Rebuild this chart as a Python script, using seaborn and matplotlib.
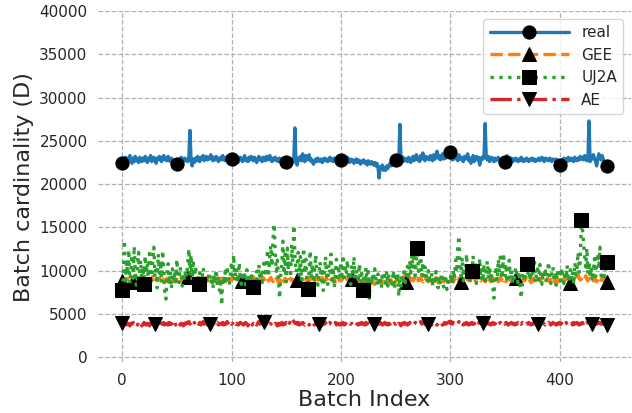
import numpy as np
import seaborn as sns
import matplotlib
matplotlib.use("Agg")
import matplotlib.pyplot as plt

# values, in hundreds (x100 below)
real = [
    224, 229, 226, 231, 225, 230, 227, 233, 228, 224, 230, 226, 232, 227, 229, 225, 231, 228, 226, 230,
    227, 232, 229, 225, 230, 228, 233, 226, 229, 231, 227, 224, 230, 228, 232, 229, 226, 231, 233, 228,
    230, 227, 232, 229, 226, 230, 228, 225, 227, 224, 223, 226, 229, 225, 231, 228, 226, 230, 227, 229,
    226, 231, 262, 228, 221, 229, 225, 230, 227, 232, 228, 226, 231, 229, 233, 227, 230, 232, 228, 231,
    229, 234, 230, 227, 231, 228, 232, 230, 226, 229, 231, 228, 233, 229, 227, 230, 232, 228, 231, 229,
    229, 232, 228, 226, 230, 227, 225, 229, 231, 228, 226, 230, 233, 227, 229, 226, 231, 228, 232, 229,
    227, 231, 228, 225, 229, 232, 228, 230, 226, 231, 229, 227, 232, 230, 228, 233, 229, 226, 230, 228,
    231, 227, 229, 226, 230, 228, 225, 227, 229, 226, 225, 228, 226, 230, 227, 229, 226, 231, 265, 224,
    222, 230, 228, 232, 227, 235, 229, 226, 233, 228, 231, 234, 227, 229, 225, 223, 227, 229, 226, 230,
    228, 226, 229, 225, 228, 230, 227, 229, 226, 228, 231, 227, 229, 226, 230, 228, 227, 229, 231, 228,
    228, 230, 227, 229, 226, 228, 231, 227, 225, 229, 226, 228, 224, 227, 229, 225, 228, 226, 223, 227,
    225, 228, 224, 226, 222, 227, 225, 223, 226, 224, 222, 225, 221, 224, 219, 207, 220, 217, 222, 216,
    219, 216, 221, 218, 222, 224, 221, 225, 223, 226, 228, 224, 227, 225, 269, 228, 232, 226, 230, 227,
    229, 226, 231, 228, 225, 229, 232, 227, 230, 234, 228, 231, 226, 233, 229, 236, 230, 227, 232, 229,
    231, 228, 233, 230, 227, 234, 229, 232, 238, 230, 233, 228, 231, 235, 229, 232, 230, 234, 231, 233,
    237, 231, 228, 233, 229, 232, 230, 227, 234, 229, 231, 228, 226, 232, 229, 231, 235, 227, 230, 224,
    229, 233, 226, 230, 232, 228, 231, 222, 227, 231, 229, 234, 270, 230, 228, 232, 226, 229, 231, 228,
    226, 230, 227, 229, 231, 228, 225, 229, 227, 228, 225, 229, 233, 227, 231, 228, 230, 226, 229, 227,
    230, 228, 226, 229, 227, 231, 228, 226, 229, 227, 230, 228, 226, 229, 228, 230, 227, 229, 226, 228,
    228, 230, 227, 229, 231, 228, 226, 230, 228, 229, 227, 230, 228, 226, 229, 228, 227, 229, 226, 224,
    222, 225, 228, 226, 230, 227, 229, 226, 231, 228, 227, 230, 228, 226, 231, 229, 227, 230, 228, 232,
    229, 231, 228, 233, 230, 227, 229, 273, 226, 232, 229, 234, 230, 226, 221, 229, 235, 231, 228, 233,
    229, 225, 223, 221,
]

gee = [
    88, 90, 89, 91, 88, 90, 92, 89, 87, 90, 87, 89, 91, 88, 90, 89, 92, 90, 88, 91,
    89, 87, 90, 92, 89, 91, 88, 90, 93, 89, 87, 90, 88, 91, 89, 92, 90, 88, 90, 87,
    89, 91, 88, 90, 92, 89, 87, 90, 91, 88, 90, 89, 92, 90, 88, 91, 89, 93, 90, 88,
    93, 90, 92, 89, 91, 93, 90, 88, 91, 89, 92, 90, 88, 91, 93, 89, 90, 92, 88, 90,
    91, 89, 87, 90, 92, 88, 91, 89, 90, 93, 89, 88, 91, 90, 87, 89, 92, 90, 88, 91,
    89, 92, 90, 88, 91, 89, 93, 90, 92, 89, 88, 90, 87, 89, 91, 88, 90, 92, 89, 91,
    93, 90, 88, 91, 89, 92, 95, 91, 89, 92, 90, 87, 89, 91, 88, 90, 92, 89, 87, 90,
    88, 91, 89, 86, 90, 88, 92, 89, 87, 91, 88, 90, 93, 89, 91, 88, 90, 87, 89, 91,
    89, 92, 90, 88, 91, 89, 93, 90, 88, 91, 89, 92, 90, 87, 89, 91, 88, 90, 92, 89,
    91, 88, 90, 92, 89, 87, 90, 91, 88, 90, 92, 89, 91, 88, 90, 87, 89, 92, 90, 88,
    91, 89, 92, 90, 88, 91, 89, 93, 90, 88, 90, 92, 89, 91, 88, 90, 87, 89, 91, 88,
    87, 89, 85, 88, 86, 84, 87, 89, 85, 88, 86, 84, 87, 85, 88, 86, 89, 87, 85, 88,
    86, 89, 87, 90, 88, 86, 89, 87, 90, 88, 87, 89, 91, 88, 90, 92, 89, 91, 94, 90,
    87, 90, 88, 92, 89, 91, 88, 90, 93, 89, 91, 88, 90, 92, 89, 87, 90, 88, 91, 89,
    87, 90, 88, 91, 89, 87, 90, 92, 88, 86, 89, 91, 88, 90, 87, 89, 91, 88, 86, 89,
    88, 91, 89, 87, 90, 92, 89, 91, 88, 90, 87, 89, 91, 88, 90, 93, 89, 91, 88, 90,
    92, 89, 91, 88, 90, 93, 89, 91, 88, 90, 92, 89, 87, 90, 88, 91, 89, 87, 90, 92,
    89, 91, 88, 90, 87, 89, 92, 90, 88, 91, 89, 87, 90, 92, 89, 91, 88, 90, 87, 89,
    91, 89, 92, 88, 90, 87, 89, 91, 88, 90, 92, 89, 91, 88, 86, 89, 91, 88, 90, 87,
    89, 91, 88, 90, 92, 89, 87, 90, 88, 91, 89, 87, 90, 88, 91, 89, 86, 88, 90, 87,
    89, 91, 88, 90, 87, 89, 92, 88, 90, 87, 86, 89, 91, 88, 93, 90, 92, 95, 91, 89,
    90, 92, 89, 91, 94, 90, 88, 91, 89, 92, 90, 88, 91, 89, 87, 90, 88, 86, 89, 91,
    88, 90, 89, 87,
]

uj2a = [
    77, 92, 135, 88, 110, 96, 124, 85, 102, 118, 91, 128, 99, 83, 107, 121, 94, 112, 87, 104,
    85, 117, 96, 109, 82, 124, 99, 88, 113, 127, 92, 105, 80, 119, 97, 111, 86, 123, 101, 75,
    67, 93, 108, 84, 99, 79, 102, 88, 96, 83, 113, 91, 86, 104, 94, 82, 97, 89, 101, 93,
    109, 125, 96, 118, 88, 112, 83, 105, 94, 86, 84, 99, 92, 88, 103, 96, 81, 90, 86, 93,
    98, 85, 92, 79, 96, 88, 101, 83, 94, 77, 86, 60, 92, 84, 99, 88, 105, 91, 83, 96,
    110, 94, 118, 88, 103, 97, 86, 109, 92, 84, 98, 89, 95, 83, 101, 87, 92, 80, 97, 85,
    81, 93, 88, 99, 84, 107, 91, 96, 86, 102, 113, 93, 108, 124, 97, 118, 129, 105, 137, 154,
    121, 99, 112, 88, 68, 95, 107, 134, 96, 119, 87, 126, 101, 113, 92, 130, 109, 152, 118, 98,
    104, 121, 93, 116, 88, 109, 126, 97, 113, 85, 79, 102, 123, 91, 108, 86, 99, 118, 94, 83,
    95, 110, 88, 103, 77, 98, 116, 92, 84, 107, 99, 119, 89, 104, 80, 96, 113, 87, 101, 92,
    110, 94, 118, 87, 103, 96, 112, 89, 99, 84, 106, 93, 116, 88, 101, 95, 90, 108, 86, 97,
    78, 94, 89, 103, 86, 99, 68, 92, 84, 97, 88, 102, 91, 83, 96, 87, 93, 80, 98, 89,
    94, 85, 99, 82, 96, 88, 91, 84, 100, 79, 93, 87, 97, 70, 90, 82, 95, 88, 103, 86,
    92, 105, 89, 111, 97, 118, 102, 125, 94, 113, 126, 99, 107, 121, 93, 110, 89, 104, 96, 86,
    100, 91, 85, 97, 82, 94, 88, 99, 86, 80, 93, 84, 97, 89, 81, 95, 87, 78, 92, 85,
    90, 97, 84, 101, 93, 112, 98, 127, 140, 106, 93, 115, 88, 104, 97, 119, 92, 108, 86, 99,
    100, 117, 93, 109, 85, 103, 96, 114, 89, 101, 92, 107, 84, 98, 111, 90, 104, 87, 96, 82,
    68, 93, 105, 88, 113, 97, 120, 91, 102, 116, 94, 108, 86, 99, 112, 90, 103, 85, 97, 91,
    104, 95, 86, 99, 82, 68, 93, 108, 87, 101, 108, 95, 111, 88, 104, 92, 99, 114, 86, 97,
    102, 89, 107, 94, 84, 99, 91, 103, 87, 96, 110, 92, 85, 98, 104, 89, 95, 83, 100, 92,
    97, 88, 103, 93, 85, 99, 91, 106, 87, 95, 101, 89, 97, 84, 109, 95, 103, 121, 98, 112,
    158, 148, 132, 117, 104, 126, 96, 110, 92, 105, 88, 99, 114, 93, 107, 120, 102, 127, 95, 89,
    104, 93, 98, 110,
]

ae = [
    39, 37, 38, 40, 37, 39, 38, 36, 39, 38, 40, 37, 38, 39, 37, 40, 38, 39, 36, 38,
    40, 38, 37, 39, 38, 36, 39, 40, 37, 38, 38, 39, 37, 40, 38, 36, 39, 38, 40, 37,
    38, 39, 37, 40, 38, 39, 36, 38, 40, 37, 39, 38, 40, 37, 39, 38, 36, 39, 38, 40,
    39, 41, 38, 40, 39, 37, 40, 38, 41, 39, 38, 40, 37, 39, 41, 38, 40, 39, 37, 38,
    38, 40, 37, 39, 38, 36, 39, 40, 37, 38, 39, 38, 40, 37, 39, 38, 41, 39, 37, 40,
    38, 39, 37, 40, 38, 39, 37, 38, 40, 39, 38, 37, 39, 40, 38, 36, 39, 38, 40, 37,
    39, 38, 40, 37, 39, 41, 38, 40, 39, 37, 41, 39, 38, 40, 37, 39, 38, 40, 38, 37,
    39, 38, 36, 39, 37, 38, 40, 37, 39, 38, 40, 38, 41, 39, 42, 40, 43, 41, 39, 40,
    38, 40, 37, 39, 38, 40, 39, 37, 38, 40, 39, 37, 39, 38, 40, 38, 37, 39, 40, 38,
    38, 40, 39, 37, 39, 38, 40, 37, 39, 38, 40, 38, 37, 39, 38, 40, 37, 39, 38, 37,
    39, 38, 40, 37, 39, 38, 37, 39, 40, 38, 39, 37, 38, 40, 39, 38, 37, 39, 38, 40,
    38, 39, 37, 40, 38, 39, 37, 38, 39, 37, 38, 40, 38, 37, 39, 38, 40, 39, 37, 38,
    40, 38, 39, 37, 39, 38, 40, 37, 38, 39, 38, 40, 37, 39, 38, 36, 39, 38, 40, 38,
    39, 37, 38, 40, 38, 39, 37, 38, 40, 39, 38, 37, 39, 41, 38, 40, 39, 38, 37, 39,
    38, 40, 39, 37, 39, 38, 40, 38, 37, 39, 38, 40, 39, 37, 38, 40, 38, 39, 40, 41,
    39, 41, 38, 40, 39, 38, 40, 39, 41, 38, 40, 39, 37, 39, 38, 40, 38, 37, 39, 38,
    40, 38, 39, 37, 40, 38, 39, 41, 38, 40, 39, 38, 37, 39, 40, 38, 39, 37, 38, 40,
    38, 39, 37, 40, 38, 39, 40, 38, 37, 39, 38, 40, 39, 37, 38, 39, 40, 38, 39, 37,
    39, 38, 40, 37, 39, 38, 40, 39, 38, 37, 39, 38, 40, 38, 37, 39, 38, 40, 39, 37,
    38, 40, 39, 37, 38, 40, 38, 37, 39, 38, 40, 39, 37, 38, 40, 39, 38, 37, 39, 38,
    40, 38, 39, 37, 39, 38, 40, 38, 37, 39, 38, 39, 37, 40, 38, 39, 40, 38, 37, 39,
    38, 40, 39, 41, 38, 40, 39, 38, 40, 39, 38, 37, 39, 41, 38, 40, 39, 40, 38, 39,
    38, 39, 40, 37,
]

series = [
    ("real", real, "tab:blue", "-", "o", 0),
    ("GEE", gee, "tab:orange", "--", "^", 10),
    ("UJ2A", uj2a, "tab:green", ":", "s", 20),
    ("AE", ae, "tab:red", "-.", "v", 30),
]

sns.set_style("white")
plt.rcParams["font.family"] = ["DejaVu Sans"]

fig, ax = plt.subplots(figsize=(6.32, 4.13), dpi=100)

n = len(real)
batch = np.arange(n)
for name, vals, color, ls, mk, offset in series:
    y = np.array(vals) * 100
    marks = sorted(set([0] + list(range(offset, n, 50)) + [n - 1]))
    sns.lineplot(x=batch, y=y, ax=ax, color=color, linewidth=2.4,
                 marker=mk, markevery=marks, markersize=9.5,
                 markerfacecolor="black", markeredgecolor="black", label=name)
    # seaborn resets the dash pattern, so put it back on the line just drawn
    ax.lines[-1].set_linestyle(ls)

ax.set_ylim(-600, 40000)
ax.set_yticks(range(0, 40001, 5000))
ax.set_xticks([0, 100, 200, 300, 400])
ax.grid(True, linestyle="--", color="#b0b0b0", linewidth=0.9)
ax.tick_params(axis="both", labelsize=11, length=4, color="#333333")
sns.despine(left=True, bottom=True)
ax.set_xlabel("Batch Index", fontsize=16, labelpad=2)
ax.set_ylabel("Batch cardinality (D)", fontsize=16)
ax.legend(loc="upper right", fontsize=11, frameon=True, handlelength=5.2)

plt.subplots_adjust(left=0.155, right=0.998, top=0.973, bottom=0.123)
plt.savefig("out.png", dpi=100)
